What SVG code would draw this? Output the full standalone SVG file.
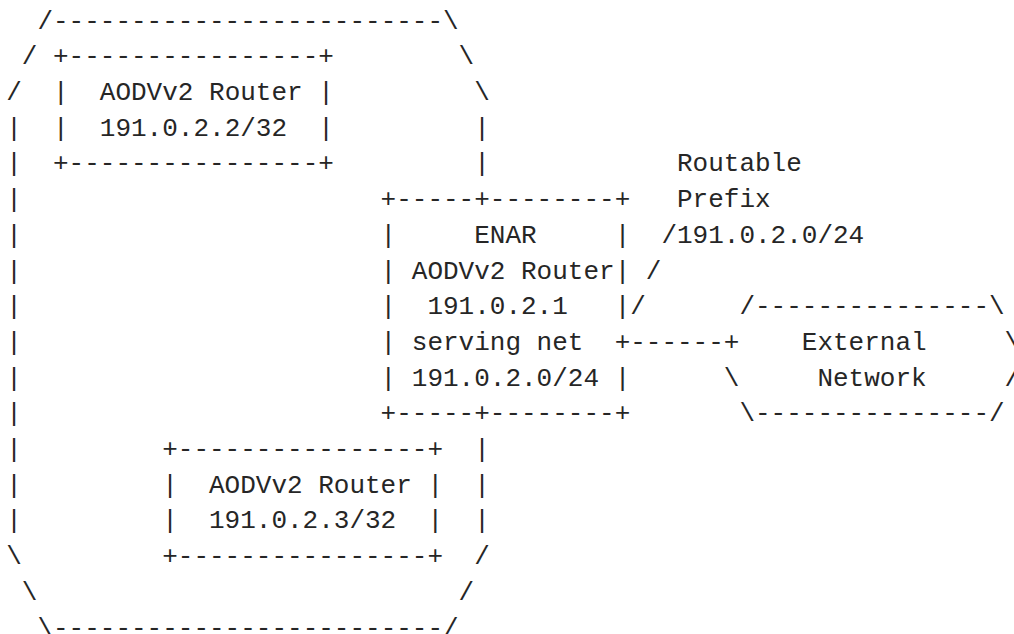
<svg xmlns="http://www.w3.org/2000/svg" width="1014" height="634" viewBox="0 0 1014 634">
<style>
text { font-family: "Liberation Mono", "DejaVu Sans Mono", monospace; font-size: 26px; fill: #262626; white-space: pre; }
</style>
<rect x="0" y="0" width="1014" height="634" fill="#ffffff"/>
<g id="manet-region">
<text x="37.4" y="28.6">/-------------------------\</text>
<text x="21.8" y="64.3">/</text><text x="458.6" y="64.3">\</text>
<text x="6.2" y="100">/</text><text x="474.2" y="100">\</text>
<text x="6.2" y="135.7">|</text><text x="474.2" y="135.7">|</text>
<text x="6.2" y="171.4">|</text><text x="474.2" y="171.4">|</text>
<text x="6.2" y="207.1">|</text>
<text x="6.2" y="242.8">|</text>
<text x="6.2" y="278.5">|</text>
<text x="6.2" y="314.2">|</text>
<text x="6.2" y="349.9">|</text>
<text x="6.2" y="385.6">|</text>
<text x="6.2" y="421.3">|</text>
<text x="6.2" y="457">|</text><text x="474.2" y="457">|</text>
<text x="6.2" y="492.7">|</text><text x="474.2" y="492.7">|</text>
<text x="6.2" y="528.4">|</text><text x="474.2" y="528.4">|</text>
<text x="6.2" y="564.1">\</text><text x="474.2" y="564.1">/</text>
<text x="21.8" y="599.8">\</text><text x="458.6" y="599.8">/</text>
<text x="37.4" y="635.5">\-------------------------/</text>
</g>
<g id="router-191-0-2-2">
<text x="53" y="64.3">+----------------+</text>
<text x="53" y="100">|  AODVv2 Router |</text>
<text x="53" y="135.7">|  191.0.2.2/32  |</text>
<text x="53" y="171.4">+----------------+</text>
</g>
<g id="router-191-0-2-3">
<text x="162.2" y="457">+----------------+</text>
<text x="162.2" y="492.7">|  AODVv2 Router |</text>
<text x="162.2" y="528.4">|  191.0.2.3/32  |</text>
<text x="162.2" y="564.1">+----------------+</text>
</g>
<g id="enar">
<text x="380.6" y="207.1">+-----+--------+</text>
<text x="380.6" y="242.8">|     ENAR     |</text>
<text x="380.6" y="278.5">| AODVv2 Router|</text>
<text x="380.6" y="314.2">|  191.0.2.1   |</text>
<text x="380.6" y="349.9">| serving net  +</text>
<text x="380.6" y="385.6">| 191.0.2.0/24 |</text>
<text x="380.6" y="421.3">+-----+--------+</text>
</g>
<g id="routable-prefix-label">
<text x="677" y="171.4">Routable</text>
<text x="677" y="207.1">Prefix</text>
<text x="661.4" y="242.8">/191.0.2.0/24</text>
</g>
<g id="external-network">
<text x="739.4" y="314.2">/---------------\</text>
<text x="801.8" y="349.9">External</text><text x="1004.6" y="349.9">\</text>
<text x="723.8" y="385.6">\</text><text x="817.4" y="385.6">Network</text><text x="1004.6" y="385.6">/</text>
<text x="739.4" y="421.3">\---------------/</text>
</g>
<g id="connectors">
<text x="645.8" y="278.5">/</text>
<text x="630.2" y="314.2">/</text>
<text x="630.2" y="349.9">------+</text>
</g>
</svg>
